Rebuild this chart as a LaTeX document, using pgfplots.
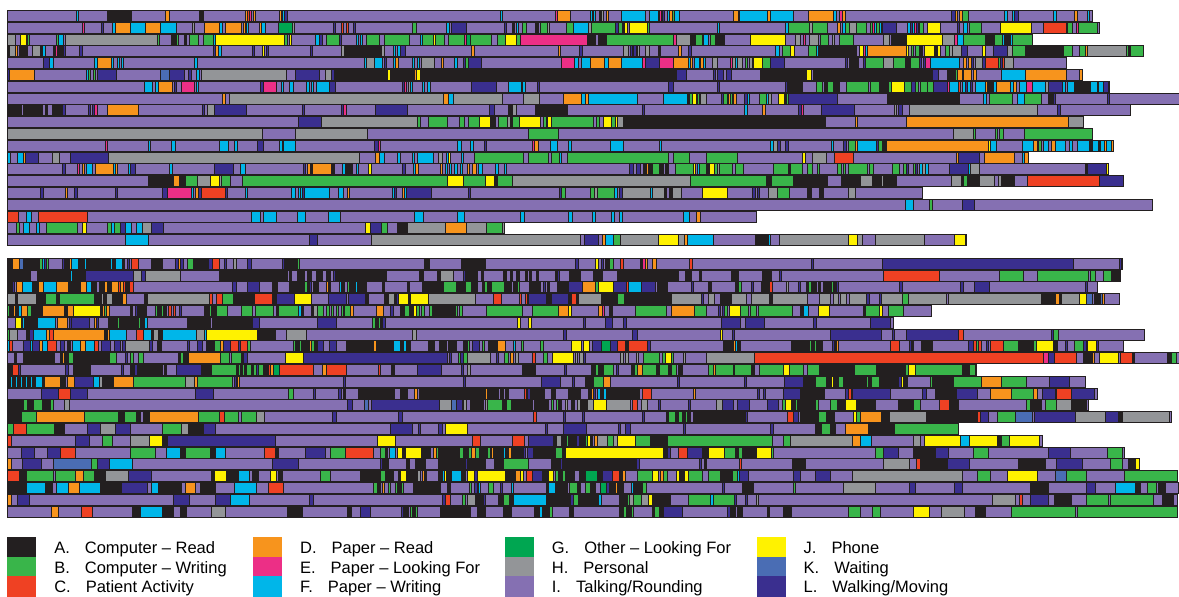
\documentclass[border=0pt]{standalone}
\usepackage{pgfplots}
\pgfplotsset{compat=1.18}
\usepackage{pgfplotstable}
\usepackage{fontspec}
\setmainfont{Liberation Sans}
\definecolor{cA}{HTML}{231F20}
\definecolor{cB}{HTML}{39B54A}
\definecolor{cC}{HTML}{EF4123}
\definecolor{cD}{HTML}{F7941D}
\definecolor{cE}{HTML}{EC2F86}
\definecolor{cF}{HTML}{00B6E9}
\definecolor{cG}{HTML}{00A651}
\definecolor{cH}{HTML}{939598}
\definecolor{cI}{HTML}{8570B2}
\definecolor{cJ}{HTML}{FFF200}
\definecolor{cK}{HTML}{4A6DB4}
\definecolor{cL}{HTML}{3A2F8F}

\pgfplotstableread{
s e r c
7 1092 1 9
7 1099 2 9
7 1032 3 9
7 1143 4 9
7 1066 5 9
7 1082 6 9
7 1109 7 9
7 1179 8 9
7 1130 9 9
7 1083 10 9
7 1092 11 9
7 1113 12 9
7 1028 13 9
7 1108 14 9
7 1123 15 9
7 922 16 9
7 1152 17 9
7 756 18 9
7 504 19 9
7 966 20 9
7 1122 22 9
7 1120 23 9
7 1097 24 9
7 1119 25 9
7 931 26 9
7 893 27 9
7 1144 28 9
7 1123 29 9
7 1179 30 9
7 976 31 9
7 1085 32 9
7 1097 33 9
7 1088 34 9
7 1171 35 9
7 958 36 9
7 1042 37 9
7 1124 38 9
7 1139 39 9
7 1177 40 9
7 1178 41 9
7 1177 42 9
7 1177 43 9
}\rowdata

\pgfplotstableread{
s e r c
76 78 1 6
107 131 1 1
165 169 1 4
199 203 1 1
245 247 1 4
247 249 1 3
249 251 1 5
253 255 1 4
279 281 1 4
282 284 1 6
284 287 1 12
500 502 1 6
555 557 1 5
557 570 1 4
590 592 1 6
593 595 1 6
599 601 1 1
601 603 1 8
606 608 1 4
621 645 1 6
649 658 1 6
659 661 1 5
662 664 1 12
667 669 1 6
669 672 1 4
672 674 1 2
674 679 1 6
733 738 1 4
739 767 1 6
767 770 1 4
770 793 1 6
808 833 1 4
833 836 1 6
839 842 1 5
842 845 1 4
951 955 1 12
955 957 1 4
959 962 1 4
962 968 1 2
1004 1007 1 6
1012 1014 1 6
1014 1018 1 12
1053 1056 1 6
1074 1077 1 4
1087 1089 1 6
82 84 2 5
101 103 2 12
112 115 2 6
115 130 2 4
130 145 2 6
145 160 2 4
160 176 2 6
192 194 2 8
204 219 2 4
219 222 2 6
225 241 2 4
243 245 2 4
246 248 2 6
259 261 2 4
261 265 2 6
278 292 2 7
292 294 2 8
333 335 2 12
341 343 2 3
346 348 2 3
353 355 2 12
412 416 2 2
446 449 2 6
451 466 2 12
504 506 2 12
512 514 2 1
516 518 2 6
522 526 2 2
535 538 2 1
540 547 2 2
547 549 2 8
566 573 2 2
573 588 2 6
588 591 2 8
591 615 2 2
615 618 2 12
618 622 2 2
622 624 2 1
624 627 2 10
629 647 2 10
647 649 2 2
717 719 2 6
785 788 2 6
788 809 2 2
809 812 2 8
812 827 2 2
837 840 2 4
842 845 2 6
845 849 2 2
849 856 2 8
856 866 2 2
870 872 2 2
872 874 2 5
874 876 2 6
876 879 2 2
879 881 2 6
882 896 2 12
907 910 2 6
910 912 2 12
912 914 2 6
914 916 2 5
916 918 2 12
919 923 2 2
927 940 2 10
957 959 2 12
963 967 2 6
969 981 2 2
1000 1031 2 10
1043 1066 2 3
1067 1072 2 2
1076 1078 2 5
1078 1097 2 2
7 15 3 8
20 26 3 10
27 29 3 2
56 58 3 2
58 63 3 6
65 157 3 8
157 159 3 2
171 176 3 1
176 178 3 2
184 186 3 1
189 198 3 2
203 213 3 2
213 215 3 6
215 284 3 10
284 287 3 2
289 291 3 10
315 319 3 6
319 322 3 12
326 339 3 2
339 341 3 12
356 358 3 6
360 362 3 6
366 379 3 2
384 409 3 2
420 422 3 6
422 433 3 2
433 435 3 10
435 444 3 2
448 464 3 2
464 466 3 5
466 470 3 7
470 491 3 2
497 505 3 2
505 516 3 10
516 520 3 2
520 587 3 5
587 595 3 1
598 606 3 1
606 673 3 2
673 676 3 5
676 690 3 8
690 695 3 1
695 702 3 2
703 708 3 6
710 715 3 2
715 724 3 1
750 785 3 10
795 800 3 8
803 805 3 5
809 818 3 8
820 828 3 2
832 834 3 8
839 853 3 2
883 889 3 8
891 906 3 1
906 942 3 10
942 954 3 8
954 957 3 5
957 963 3 6
963 985 3 2
985 994 3 1
994 1002 3 2
1002 1004 3 6
1004 1010 3 1
1010 1012 3 6
1012 1032 3 2
7 9 4 1
9 15 4 8
15 17 4 4
19 27 4 1
32 40 4 8
40 42 4 1
42 45 4 6
53 55 4 1
55 57 4 5
57 63 4 1
63 65 4 12
79 82 4 12
213 215 4 12
215 218 4 4
218 221 4 6
252 254 4 12
262 264 4 10
266 268 4 12
310 312 4 12
341 344 4 8
344 381 4 1
381 384 4 8
393 395 4 6
397 400 4 6
400 405 4 12
471 474 4 4
558 560 4 4
579 582 4 12
623 628 4 8
630 632 4 12
633 636 4 12
637 639 4 8
645 649 4 8
658 660 4 1
678 681 4 4
688 691 4 12
775 779 4 6
782 790 4 2
790 794 4 10
808 816 4 2
816 818 4 6
818 856 4 1
859 863 4 10
863 865 4 5
865 867 4 6
867 906 4 4
906 908 4 10
908 911 4 8
911 913 4 2
915 919 4 2
920 922 4 1
924 934 4 10
934 937 4 1
937 940 4 10
945 949 4 2
949 952 4 8
952 961 4 8
961 967 4 12
982 985 4 10
993 1007 4 12
1007 1012 4 8
1012 1025 4 2
1025 1063 4 1
1063 1072 4 2
1079 1085 4 2
1085 1087 4 4
1087 1126 4 8
1126 1128 4 2
1128 1130 4 1
1130 1143 4 2
43 49 5 12
49 53 5 6
94 97 5 6
97 111 5 4
111 113 5 6
117 119 5 6
121 123 5 6
194 197 5 6
364 366 5 6
366 374 5 8
374 382 5 6
384 386 5 12
393 395 5 6
395 398 5 4
412 414 5 6
417 419 5 6
421 434 5 8
441 443 5 4
454 457 5 6
463 465 5 12
465 468 5 2
468 481 5 12
561 574 5 5
574 578 5 6
581 590 5 6
590 604 5 4
604 608 5 6
608 621 5 4
621 642 5 6
642 645 5 5
645 659 5 12
659 673 5 5
673 688 5 4
688 690 5 6
690 692 5 4
694 699 5 6
700 703 5 4
703 705 5 6
712 717 5 8
730 732 5 5
732 735 5 8
735 737 5 6
737 742 5 8
745 747 5 2
749 752 5 8
753 762 5 10
762 770 5 2
770 784 5 12
845 847 5 12
849 858 5 1
863 865 5 12
865 883 5 2
883 893 5 8
893 905 5 2
905 910 5 1
910 919 5 2
919 921 5 12
923 925 5 12
925 930 5 5
930 959 5 6
963 966 5 4
968 971 5 4
971 973 5 12
975 982 5 8
982 985 5 12
985 998 5 3
998 1000 5 2
1000 1002 5 12
1002 1004 5 3
1004 1013 5 8
7 9 6 12
9 34 6 4
86 88 6 6
88 90 6 2
93 95 6 2
97 116 6 12
160 169 6 11
169 184 6 12
188 191 6 12
196 199 6 6
201 286 6 8
295 319 6 12
325 331 6 8
331 334 6 12
334 387 6 1
387 390 6 10
390 414 6 1
414 416 6 4
416 420 6 10
420 676 6 1
676 686 6 12
713 715 6 12
717 723 6 12
726 731 6 12
760 806 6 1
806 811 6 10
813 932 6 1
932 938 6 12
947 955 6 1
955 957 6 2
957 962 6 4
963 971 6 4
973 976 6 4
1001 1025 6 6
1025 1066 6 4
1079 1082 6 4
144 152 7 6
155 158 7 6
158 172 7 4
174 176 7 12
181 194 7 5
196 198 7 6
260 263 7 12
263 276 7 5
281 283 7 6
289 293 7 6
306 309 7 6
311 313 7 6
316 329 7 6
329 335 7 12
402 404 7 12
404 406 7 5
408 410 7 8
410 412 7 6
422 424 7 6
427 430 7 6
471 496 7 12
508 521 7 6
522 525 7 6
537 539 7 12
668 673 7 12
717 719 7 12
785 787 7 12
787 802 7 1
816 822 7 2
824 827 7 1
827 833 7 2
833 839 7 1
846 868 7 2
870 879 7 2
879 888 7 1
888 891 7 2
891 904 7 10
904 911 7 2
911 915 7 12
915 918 7 2
920 927 7 2
927 933 7 2
933 947 7 12
947 949 7 5
949 958 7 6
958 960 7 3
962 965 7 6
965 967 7 12
967 970 7 6
970 972 7 12
975 985 7 6
985 987 7 4
987 993 7 1
993 996 7 6
996 1010 7 4
1010 1013 7 6
1013 1016 7 4
1019 1026 7 6
1026 1032 7 5
1032 1045 7 6
1045 1048 7 8
1048 1062 7 12
1062 1065 7 6
1067 1074 7 6
1074 1090 7 1
1090 1097 7 6
1098 1103 7 6
1103 1108 7 12
222 225 8 4
229 443 8 8
443 448 8 4
448 453 8 6
453 502 8 8
523 539 8 8
563 581 8 4
581 585 8 6
585 588 8 4
588 637 8 6
663 687 8 6
687 689 8 1
689 692 8 2
692 696 8 10
697 699 8 2
700 706 8 8
721 723 8 12
723 727 8 2
728 730 8 4
730 732 8 2
733 736 8 4
744 747 8 12
747 749 8 6
759 766 8 2
766 768 8 6
768 771 8 8
778 784 8 10
784 786 8 1
786 788 8 2
788 837 8 12
887 959 8 1
983 986 8 6
989 1012 8 2
1017 1024 8 6
1024 1041 8 2
1048 1053 8 1
1053 1055 8 12
1107 1109 8 12
7 21 9 1
23 42 9 1
45 47 9 1
52 62 9 1
62 65 9 12
88 90 9 12
92 94 9 12
94 97 9 5
107 138 9 4
202 204 9 12
207 214 9 8
214 246 9 12
302 304 9 12
341 343 9 12
343 346 9 5
375 407 9 12
489 494 9 12
508 512 9 1
512 516 9 8
535 567 9 1
642 644 9 12
744 747 9 6
762 765 9 4
798 801 9 12
801 803 9 5
821 854 9 12
894 896 9 8
898 902 9 12
909 1037 9 8
1057 1060 9 12
298 321 10 12
321 417 10 8
417 420 10 2
428 447 10 2
459 464 10 2
468 479 10 2
479 490 10 10
490 495 10 1
498 507 10 2
507 510 10 8
510 512 10 1
512 519 10 2
519 540 10 10
543 546 10 2
547 551 10 10
551 593 10 2
596 599 10 2
603 611 10 10
611 615 10 2
615 617 10 10
617 623 10 8
623 825 10 1
855 857 10 4
906 1068 10 4
1068 1083 10 8
7 262 11 8
295 367 11 8
528 558 11 2
953 973 11 8
973 975 11 2
995 997 11 2
999 1003 11 2
1024 1092 11 2
105 107 12 5
148 150 12 6
171 175 12 6
219 228 12 6
234 237 12 6
257 263 12 12
279 282 12 6
283 295 12 6
374 378 12 12
378 380 12 5
457 461 12 6
470 473 12 6
484 486 12 12
532 534 12 5
534 538 12 4
550 557 12 6
568 571 12 6
610 623 12 6
659 661 12 6
770 773 12 6
773 777 12 8
777 780 12 12
785 788 12 12
831 833 12 6
843 846 12 12
848 855 12 2
855 857 12 4
857 876 12 6
876 878 12 12
878 882 12 2
883 886 12 1
886 988 12 4
988 990 12 10
990 996 12 6
1022 1033 12 6
1033 1037 12 4
1038 1041 12 2
1043 1048 12 6
1051 1055 12 4
1055 1065 12 6
1069 1072 12 6
1077 1089 12 6
1089 1092 12 1
1092 1098 12 6
1098 1100 12 1
1100 1104 12 6
1104 1106 12 4
1106 1111 12 6
1111 1113 12 4
7 10 13 6
17 23 13 6
23 25 13 4
25 38 13 12
52 59 13 8
70 108 13 12
108 359 13 8
375 379 13 4
379 384 13 6
397 400 13 6
412 414 13 6
417 433 13 6
438 442 13 8
446 448 13 6
448 450 13 10
461 463 13 6
474 523 13 2
528 548 13 2
551 559 13 2
559 561 13 6
567 668 13 2
673 689 13 2
706 737 13 2
802 805 13 10
812 826 13 8
834 853 13 3
956 958 13 4
958 979 13 12
984 1014 13 4
1022 1024 13 6
1024 1028 13 4
62 65 14 12
77 79 14 5
82 84 14 4
86 92 14 6
95 113 14 4
113 115 14 6
115 117 14 4
128 130 14 6
130 135 14 12
169 172 14 6
214 233 14 12
240 245 14 6
303 305 14 12
307 310 14 4
310 312 14 1
312 331 14 4
331 334 14 1
342 345 14 6
345 352 14 1
356 358 14 6
368 371 14 10
402 405 14 12
413 415 14 6
415 418 14 4
440 442 14 4
445 447 14 6
449 451 14 6
454 457 14 6
460 462 14 6
467 469 14 4
472 476 14 4
478 482 14 6
495 498 14 6
504 506 14 6
629 633 14 12
636 640 14 12
643 645 14 1
646 648 14 4
648 651 14 1
652 659 14 2
659 663 14 1
665 668 14 1
675 693 14 2
693 695 14 10
697 699 14 6
699 706 14 2
707 709 14 1
709 714 14 10
714 717 14 2
717 719 14 8
719 732 14 2
735 743 14 2
773 788 14 2
788 790 14 1
790 802 14 2
807 812 14 2
817 819 14 2
837 841 14 2
843 845 14 2
848 867 14 2
869 873 14 2
892 899 14 2
903 906 14 2
906 908 14 12
913 915 14 2
915 917 14 12
919 922 14 6
922 925 14 8
925 928 14 6
949 968 14 12
968 970 14 6
970 979 14 8
1085 1087 14 1
1087 1106 14 12
1106 1108 14 10
148 173 15 1
173 179 15 4
179 185 15 1
185 197 15 2
197 210 15 8
210 219 15 10
219 221 15 8
221 230 15 2
242 447 15 2
447 463 15 10
463 485 15 2
485 494 15 10
494 497 15 1
497 512 15 2
512 690 15 8
690 766 15 2
766 771 15 1
771 793 15 2
793 827 15 1
841 860 15 1
860 872 15 8
872 881 15 1
881 883 15 8
883 896 15 1
951 961 15 8
961 963 15 1
963 967 15 2
967 979 15 1
979 994 15 8
998 1001 15 8
1001 1014 15 1
1027 1099 15 3
1099 1123 15 12
40 43 16 12
65 67 16 4
74 77 16 12
115 117 16 12
162 167 16 12
167 191 16 5
191 193 16 6
195 198 16 4
198 201 16 12
201 225 16 3
225 227 16 12
245 247 16 6
291 295 16 6
298 300 16 6
300 302 16 6
302 304 16 12
304 329 16 6
338 343 16 6
347 349 16 4
392 394 16 6
394 396 16 12
402 404 16 4
404 406 16 6
406 431 16 12
468 470 16 12
559 561 16 12
561 565 16 2
590 594 16 2
594 597 16 8
597 614 16 2
614 617 16 6
619 622 16 12
622 650 16 8
650 652 16 6
652 664 16 8
664 666 16 1
669 672 16 1
672 681 16 8
702 727 16 10
752 755 16 12
757 759 16 12
768 777 16 8
777 789 16 2
807 811 16 1
819 823 16 1
848 855 16 8
905 913 17 6
929 932 17 2
962 974 17 12
7 18 18 3
26 31 18 6
38 87 18 3
251 260 18 6
263 276 18 6
297 305 18 6
328 340 18 6
414 423 18 6
457 464 18 6
520 524 18 6
568 572 18 6
592 595 18 6
611 614 18 6
619 622 18 6
683 689 18 6
696 700 18 4
16 19 19 2
23 29 19 6
36 39 19 6
46 77 19 2
82 86 19 10
107 111 19 2
111 114 19 6
114 120 19 2
120 125 19 12
125 131 19 6
136 142 19 6
142 151 19 8
151 163 19 12
365 370 19 10
370 381 19 12
381 387 19 2
397 407 19 1
407 445 19 8
445 466 19 4
466 486 19 8
486 502 19 2
502 504 19 8
125 148 20 6
309 317 20 12
371 580 20 8
584 598 20 12
602 605 20 4
605 613 20 6
613 620 20 2
620 658 20 8
658 678 20 10
678 684 20 8
684 687 20 4
687 713 20 6
755 768 20 1
768 770 20 6
779 848 20 8
848 857 20 10
857 862 20 8
875 924 20 8
954 965 20 10
7 12 22 1
12 19 22 4
19 23 22 11
23 39 22 1
39 42 22 2
42 44 22 6
44 46 22 12
46 48 22 2
62 64 22 12
64 69 22 1
69 71 22 4
71 78 22 6
78 84 22 1
84 86 22 6
86 110 22 1
110 112 22 6
112 115 22 1
115 122 22 6
122 124 22 1
127 129 22 12
131 138 22 3
151 162 22 1
175 178 22 12
178 180 22 4
180 183 22 12
187 193 22 2
193 208 22 1
208 212 22 12
212 219 22 3
224 226 22 12
233 236 22 8
247 251 22 12
282 284 22 12
284 297 22 1
297 299 22 2
424 429 22 1
461 485 22 1
575 578 22 12
595 598 22 10
601 603 22 12
605 609 22 1
609 613 22 2
620 623 22 3
640 642 22 1
642 645 22 5
645 647 22 4
652 656 22 4
689 692 22 3
811 813 22 12
882 1073 22 12
1119 1121 22 12
7 30 23 1
37 70 23 1
70 72 23 6
72 85 23 1
85 133 23 12
133 141 23 8
141 145 23 12
145 180 23 8
219 287 23 1
289 291 23 1
297 304 23 1
307 311 23 1
316 319 23 1
320 322 23 1
326 330 23 1
333 335 23 12
335 386 23 1
419 423 23 1
437 440 23 1
440 453 23 8
463 465 23 12
465 469 23 1
469 477 23 1
481 483 23 1
503 506 23 1
510 512 23 1
516 519 23 1
525 527 23 1
529 531 23 1
536 538 23 1
555 557 23 1
557 559 23 12
569 580 23 1
593 602 23 1
617 678 23 1
685 691 23 1
699 701 23 1
731 738 23 1
762 771 23 1
779 781 23 12
883 939 23 3
999 1023 23 2
1037 1088 23 2
1090 1095 23 2
1103 1111 23 2
1111 1119 23 1
7 12 24 1
12 14 24 12
16 22 24 4
22 32 24 6
33 38 24 1
38 43 24 4
43 56 24 6
56 68 24 4
68 80 24 1
80 86 24 4
86 91 24 6
91 96 24 1
99 104 24 1
104 107 24 4
107 111 24 1
111 118 24 4
118 120 24 3
120 123 24 4
123 125 24 3
125 129 24 1
129 133 24 3
232 236 24 12
247 259 24 12
272 277 24 1
289 304 24 1
304 307 24 2
307 309 24 1
309 311 24 12
313 318 24 1
326 328 24 4
328 330 24 1
339 341 24 6
341 344 24 1
347 349 24 2
349 355 24 1
355 357 24 6
357 366 24 1
382 384 24 1
407 409 24 1
422 443 24 1
443 456 24 2
456 465 24 1
465 471 24 2
471 477 24 1
482 484 24 1
484 487 24 2
487 491 24 1
491 504 24 2
504 511 24 1
513 517 24 1
517 519 24 2
529 540 24 1
543 545 24 12
547 549 24 1
557 568 24 1
568 582 24 12
582 595 24 4
595 598 24 2
598 613 24 10
613 626 24 12
626 628 24 3
628 641 24 6
641 655 24 12
657 667 24 1
691 693 24 12
708 711 24 1
735 738 24 1
738 741 24 2
751 753 24 12
761 769 24 1
769 772 24 3
786 788 24 8
798 800 24 12
806 808 24 1
808 811 24 2
811 816 24 1
818 820 24 1
823 831 24 1
831 833 24 2
833 836 24 1
836 838 24 12
899 902 24 12
960 963 24 12
974 989 24 12
1085 1087 24 12
7 15 25 8
15 17 25 1
17 36 25 8
36 45 25 1
45 56 25 2
56 59 25 1
59 94 25 2
94 101 25 1
101 103 25 8
103 106 25 1
106 112 25 8
112 122 25 1
122 126 25 4
144 147 25 1
147 209 25 8
209 212 25 3
216 222 25 3
222 233 25 2
233 254 25 1
254 272 25 3
272 276 25 1
276 294 25 12
294 311 25 10
328 346 25 12
348 365 25 12
365 368 25 1
384 388 25 1
388 394 25 8
394 396 25 1
396 398 25 12
398 408 25 10
408 410 25 1
410 428 25 10
428 475 25 8
493 501 25 3
519 521 25 3
525 527 25 3
528 546 25 12
546 551 25 1
551 568 25 12
568 571 25 1
571 576 25 3
576 578 25 1
578 601 25 8
601 617 25 1
617 624 25 2
624 671 25 1
671 701 25 8
701 703 25 12
708 714 25 8
720 731 25 1
731 746 25 8
751 769 25 8
769 772 25 1
772 807 25 8
819 830 25 8
833 838 25 8
840 846 25 8
849 866 25 8
866 869 25 12
879 881 25 12
881 902 25 8
902 908 25 2
908 946 25 8
948 1041 25 8
1041 1055 25 1
1055 1059 25 4
1059 1061 25 1
1061 1079 25 8
1079 1086 25 10
1086 1092 25 11
1094 1100 25 1
1100 1102 25 11
1102 1104 25 4
7 9 26 2
10 13 26 1
13 15 26 4
15 18 26 1
18 21 26 6
21 27 26 4
27 31 26 2
31 42 26 1
42 64 26 4
64 67 26 1
67 73 26 4
73 100 26 10
100 102 26 1
102 104 26 4
104 106 26 2
106 109 26 4
130 132 26 1
135 137 26 12
137 146 26 1
155 157 26 2
157 161 26 1
161 163 26 2
163 166 26 1
168 171 26 3
173 175 26 3
179 181 26 12
204 209 26 1
209 211 26 2
211 216 26 1
216 227 26 2
241 252 26 2
255 273 26 2
276 278 26 1
278 298 26 2
298 301 26 6
301 303 26 1
311 313 26 1
313 317 26 8
317 323 26 2
326 329 26 2
331 333 26 2
336 338 26 2
341 343 26 2
344 350 26 2
350 353 26 4
376 383 26 4
390 393 26 12
400 404 26 1
404 409 26 2
409 413 26 1
413 416 26 10
416 419 26 2
421 424 26 2
429 432 26 2
432 455 26 1
455 457 26 2
459 462 26 2
486 522 26 2
532 558 26 2
558 568 26 4
568 571 26 10
598 602 26 4
602 604 26 5
609 612 26 1
635 666 26 2
671 694 26 4
694 706 26 2
718 720 26 12
722 724 26 12
724 727 26 2
729 740 26 10
740 748 26 2
750 756 26 2
758 792 26 2
800 803 26 1
803 808 26 6
818 829 26 10
863 865 26 1
865 879 26 2
879 882 26 10
888 903 26 2
15 21 27 10
22 24 27 6
24 28 27 1
28 37 27 1
37 55 27 6
57 67 27 4
69 71 27 12
71 89 27 12
94 96 27 4
96 98 27 12
108 117 27 1
117 119 27 2
119 138 27 1
138 140 27 2
140 144 27 1
144 147 27 6
187 210 27 1
212 251 27 1
252 259 27 12
317 336 27 12
372 375 27 2
375 378 27 1
378 380 27 2
380 382 27 1
382 385 27 12
517 520 27 10
528 531 27 10
583 585 27 12
605 612 27 12
623 626 27 12
721 740 27 12
745 764 27 12
813 816 27 12
870 890 27 12
7 9 28 2
9 17 28 8
26 29 28 1
29 33 28 12
33 46 28 6
46 49 28 4
49 53 28 3
53 104 28 4
104 107 28 1
107 109 28 4
109 126 28 6
136 143 28 3
143 151 28 6
151 153 28 1
153 158 28 8
158 162 28 1
162 196 28 6
196 204 28 8
204 206 28 6
206 257 28 10
257 275 28 1
286 306 28 8
412 416 28 8
563 566 28 12
632 637 28 12
720 722 28 10
732 734 28 12
830 881 28 12
892 894 28 12
906 958 28 12
958 963 28 3
1051 1053 28 12
1053 1058 28 2
7 9 29 6
9 12 29 3
23 30 29 12
30 32 29 6
32 39 29 12
39 42 29 4
42 47 29 6
47 56 29 3
60 64 29 12
67 70 29 1
72 80 29 6
80 85 29 4
85 94 29 6
94 98 29 3
101 110 29 12
114 120 29 12
122 125 29 12
125 149 29 8
149 152 29 12
157 161 29 1
187 189 29 12
197 202 29 12
206 214 29 1
214 220 29 2
220 223 29 4
223 230 29 12
230 238 29 3
238 240 29 12
240 247 29 3
247 250 29 2
293 295 29 2
295 299 29 1
299 301 29 2
301 309 29 1
309 311 29 4
311 314 29 2
314 317 29 1
317 323 29 12
329 336 29 12
346 373 29 1
373 376 29 4
376 393 29 1
393 400 29 6
400 403 29 1
403 406 29 6
406 410 29 1
428 434 29 1
439 446 29 1
448 456 29 1
463 467 29 1
467 469 29 2
472 479 29 12
482 484 29 2
488 497 29 1
497 505 29 4
513 515 29 6
521 523 29 2
540 543 29 2
571 581 29 10
583 589 29 10
592 601 29 12
601 610 29 7
610 617 29 12
617 625 29 3
625 628 29 1
628 647 29 3
647 650 29 12
723 733 29 1
733 735 29 4
735 737 29 6
737 740 29 1
791 809 29 1
809 811 29 2
811 814 29 1
814 816 29 2
816 822 29 1
832 834 29 12
834 836 29 1
836 838 29 4
890 899 29 3
909 911 29 12
911 913 29 1
921 932 29 1
968 973 29 12
973 976 29 3
976 978 29 2
978 981 29 3
986 988 29 12
990 1003 29 3
1003 1018 29 2
1018 1033 29 1
1033 1036 29 2
1036 1053 29 10
1054 1057 29 1
1065 1067 29 12
1074 1083 29 2
1083 1086 29 12
1087 1096 29 10
1096 1098 29 12
14 16 30 1
23 54 30 1
60 62 30 1
62 64 30 4
64 68 30 1
68 73 30 2
73 109 30 1
109 116 30 2
125 127 30 12
130 133 30 2
138 143 30 2
178 180 30 1
180 183 30 2
183 187 30 1
188 220 30 4
220 229 30 2
231 241 30 2
241 243 30 1
243 247 30 12
285 303 30 10
303 447 30 12
449 451 30 12
458 460 30 2
460 463 30 12
463 467 30 2
467 490 30 8
496 498 30 12
504 508 30 2
510 513 30 4
515 518 30 8
532 535 30 3
543 547 30 2
552 573 30 10
575 577 30 8
579 583 30 8
583 585 30 12
620 623 30 8
625 628 30 8
636 638 30 8
643 659 30 2
662 665 30 2
665 671 30 10
671 673 30 2
683 685 30 8
706 754 30 8
754 1043 30 3
1043 1048 30 5
1048 1054 30 12
1054 1076 30 3
1083 1092 30 1
1092 1094 30 4
1099 1118 30 10
1120 1132 30 3
1132 1134 30 1
1167 1171 30 1
1171 1176 30 2
7 12 31 1
12 18 31 3
18 20 31 12
65 68 31 12
73 90 31 1
121 123 31 12
130 134 31 1
134 137 31 12
137 162 31 1
164 166 31 1
176 201 31 12
201 211 31 1
211 236 31 2
236 238 31 1
238 240 31 2
240 242 31 1
242 244 31 2
244 246 31 1
246 251 31 2
251 253 31 1
253 256 31 2
256 258 31 12
258 263 31 2
263 268 31 1
268 270 31 3
270 273 31 4
273 279 31 7
279 313 31 3
322 326 31 4
326 346 31 3
378 380 31 3
391 394 31 1
417 441 31 12
461 463 31 12
467 470 31 8
522 535 31 1
564 566 31 12
591 595 31 1
595 598 31 2
598 603 31 1
603 613 31 2
616 618 31 12
631 634 31 1
634 637 31 2
637 642 31 4
642 656 31 2
656 659 31 1
659 668 31 2
668 671 31 1
671 676 31 2
678 682 31 1
708 713 31 2
713 715 31 4
715 733 31 2
734 751 31 2
751 754 31 1
759 783 31 2
783 789 31 10
789 803 31 2
807 819 31 2
819 854 31 1
854 876 31 2
876 905 31 1
905 908 31 2
908 915 31 10
915 962 31 2
962 969 31 1
969 975 31 2
7 10 32 1
10 12 32 6
12 15 32 1
15 17 32 6
17 20 32 1
20 22 32 6
22 25 32 1
25 27 32 6
27 30 32 1
30 32 32 6
32 35 32 1
35 42 32 6
42 44 32 1
44 60 32 4
60 65 32 1
67 74 32 4
74 93 32 12
93 99 32 6
99 102 32 8
102 113 32 1
113 133 32 4
133 185 32 2
185 194 32 8
194 197 32 4
197 232 32 2
234 236 32 12
237 239 32 4
343 345 32 12
463 465 32 12
541 560 32 12
572 574 32 12
585 593 32 1
593 603 32 2
603 610 32 4
677 679 32 12
744 746 32 12
784 803 32 12
803 815 32 1
815 826 32 2
826 831 32 1
831 833 32 10
833 838 32 1
838 843 32 2
843 866 32 1
866 868 32 2
868 871 32 1
871 879 32 2
879 898 32 1
898 901 32 12
901 903 32 10
903 907 32 1
930 932 32 2
932 953 32 1
953 981 32 2
981 1001 32 4
1001 1026 32 2
1049 1069 32 12
41 58 33 12
58 70 33 3
70 87 33 12
195 213 33 12
288 293 33 2
313 315 33 12
338 341 33 12
343 345 33 1
358 394 33 1
400 407 33 1
414 417 33 4
419 485 33 1
485 487 33 4
487 498 33 1
500 503 33 1
505 508 33 1
524 526 33 3
527 530 33 12
530 544 33 1
551 555 33 1
568 580 33 1
588 591 33 1
591 593 33 4
593 595 33 12
597 600 33 6
600 603 33 1
603 606 33 6
606 639 33 1
642 651 33 3
693 695 33 4
757 759 33 12
763 765 33 12
783 800 33 12
800 824 33 1
845 848 33 12
848 851 33 3
852 890 33 12
922 926 33 12
935 956 33 1
956 977 33 12
990 1011 33 4
1011 1033 33 2
1033 1037 33 4
1042 1055 33 12
1056 1071 33 3
1071 1094 33 12
7 23 34 1
23 27 34 2
27 33 34 1
33 42 34 2
42 50 34 1
50 53 34 2
64 69 34 8
347 352 34 12
364 368 34 11
371 439 34 12
439 451 34 8
451 456 34 11
456 462 34 12
463 466 34 8
470 483 34 1
485 487 34 8
487 502 34 2
502 506 34 1
506 511 34 2
511 532 34 1
534 548 34 1
551 553 34 2
556 558 34 2
558 561 34 1
565 567 34 8
571 574 34 1
577 580 34 8
580 587 34 1
587 593 34 8
593 606 34 10
606 630 34 8
632 637 34 3
641 647 34 8
658 660 34 12
688 690 34 12
716 722 34 8
722 733 34 12
737 749 34 12
767 778 34 12
782 785 34 2
785 791 34 10
791 795 34 1
795 797 34 2
797 815 34 1
815 818 34 2
830 837 34 2
837 845 34 1
845 856 34 10
856 875 34 1
898 913 34 1
913 920 34 2
939 949 34 3
949 958 34 1
1026 1030 34 2
1030 1041 34 1
1045 1056 34 2
1056 1071 34 8
1071 1086 34 1
7 21 35 1
21 36 35 2
36 84 35 4
84 118 35 2
118 124 35 1
124 136 35 2
136 140 35 1
143 149 35 1
149 198 35 4
198 219 35 2
219 224 35 3
224 238 35 2
241 256 35 2
256 264 35 8
332 336 35 12
398 402 35 12
533 536 35 3
563 565 35 12
582 584 35 12
642 644 35 12
666 668 35 1
668 675 35 2
675 678 35 1
678 682 35 2
682 685 35 1
685 687 35 2
687 690 35 1
693 745 35 1
745 747 35 12
787 793 35 3
793 798 35 12
800 818 35 1
818 826 35 2
826 834 35 1
853 856 35 10
856 860 35 2
860 881 35 4
881 889 35 1
889 926 35 8
926 977 35 1
977 980 35 3
980 988 35 12
997 1015 35 2
1015 1032 35 11
1034 1075 35 12
1075 1105 35 8
1105 1118 35 12
1118 1122 35 1
1122 1169 35 8
7 13 36 2
13 26 36 3
26 54 36 2
54 64 36 1
87 100 36 12
100 115 36 8
115 130 36 12
162 181 36 2
181 188 36 8
188 203 36 1
203 215 36 12
390 412 36 12
418 420 36 12
438 442 36 12
445 467 36 10
545 547 36 12
563 586 36 12
618 620 36 12
625 630 36 12
683 685 36 12
770 773 36 12
815 821 36 1
821 830 36 2
830 835 36 1
845 868 36 4
868 894 36 1
894 958 36 2
7 11 37 3
75 89 37 12
102 112 37 2
130 149 37 8
149 162 37 10
162 167 37 1
167 275 37 12
377 395 37 10
472 480 37 3
512 524 37 3
528 553 37 12
553 556 37 1
556 561 37 8
561 566 37 1
566 568 37 2
568 576 37 1
576 579 37 12
579 585 37 1
585 587 37 2
587 590 37 10
590 592 37 1
594 597 37 4
597 607 37 8
607 613 37 2
613 617 37 8
617 635 37 10
635 650 37 2
650 667 37 1
667 772 37 2
783 790 37 2
790 852 37 8
852 860 37 4
860 871 37 6
913 920 37 8
924 960 37 10
960 969 37 6
969 997 37 10
997 1001 37 1
1001 1009 37 2
1009 1039 37 10
21 34 38 12
47 60 38 12
60 75 38 3
130 155 38 2
166 180 38 6
180 185 38 1
185 210 38 2
210 215 38 1
215 225 38 6
264 275 38 3
275 278 38 1
305 325 38 12
330 345 38 2
345 373 38 3
380 385 38 2
385 387 38 1
389 395 38 6
397 402 38 10
402 405 38 1
405 421 38 10
421 430 38 1
433 436 38 4
436 438 38 2
438 442 38 1
443 459 38 1
459 463 38 2
463 468 38 1
468 471 38 2
471 475 38 4
475 479 38 2
479 487 38 1
487 490 38 2
491 493 38 4
493 503 38 1
503 505 38 6
505 508 38 1
508 511 38 4
511 523 38 1
523 525 38 12
527 533 38 12
533 555 38 1
555 562 38 2
562 565 38 1
565 663 38 10
663 667 38 1
667 670 38 12
678 687 38 3
687 702 38 12
702 708 38 1
708 724 38 10
724 735 38 2
735 738 38 1
738 742 38 2
742 756 38 1
756 771 38 10
771 773 38 2
875 883 38 2
883 898 38 12
913 935 38 1
935 948 38 12
973 988 38 2
1048 1070 38 12
1107 1122 38 2
7 11 39 4
22 41 39 12
53 91 39 11
91 97 39 2
97 109 39 12
109 132 39 6
272 298 39 12
380 382 39 12
383 388 39 1
406 409 39 1
415 425 39 1
438 465 39 1
465 467 39 12
467 485 39 1
494 503 39 1
503 528 39 2
551 560 39 1
560 562 39 12
562 636 39 1
636 639 39 12
699 701 39 12
704 706 39 1
739 741 39 3
792 805 39 1
883 909 39 8
916 920 39 3
920 947 39 1
947 969 39 12
1018 1045 39 1
1056 1082 39 12
1110 1122 39 2
1128 1135 39 1
1135 1139 39 10
7 19 40 3
19 26 40 1
26 53 40 2
55 75 40 2
75 83 40 4
83 94 40 2
94 105 40 1
105 128 40 8
128 151 40 12
211 214 40 1
214 226 40 10
226 238 40 1
238 249 40 6
252 258 40 1
270 276 40 10
278 282 40 1
320 330 40 2
360 380 40 1
380 385 40 2
385 393 40 1
398 400 40 1
400 406 40 10
406 417 40 1
417 420 40 8
422 424 40 4
424 426 40 1
438 441 40 1
442 444 40 6
444 446 40 10
446 451 40 1
451 461 40 6
461 465 40 1
467 474 40 10
474 477 40 12
477 505 40 10
505 515 40 1
515 520 40 4
520 523 40 10
526 532 40 3
532 542 40 12
542 548 40 1
548 553 40 10
555 558 40 2
558 562 40 1
562 565 40 2
565 574 40 1
579 585 40 1
585 597 40 7
597 602 40 1
602 612 40 12
612 619 40 3
619 622 40 1
622 625 40 4
637 652 40 2
652 658 40 10
660 663 40 4
663 667 40 2
676 679 40 10
679 684 40 1
684 688 40 10
688 702 40 2
708 720 40 2
720 732 40 1
732 737 40 2
737 739 40 6
739 748 40 12
793 800 40 12
815 830 40 12
852 962 40 8
977 990 40 2
1007 1037 40 10
1055 1066 40 11
1066 1086 40 2
1124 1177 40 2
7 26 41 1
26 45 41 6
45 52 41 1
56 68 41 6
68 79 41 4
79 100 41 6
100 121 41 1
121 147 41 12
151 158 41 6
158 181 41 1
185 195 41 4
200 215 41 1
234 256 41 6
268 283 41 3
373 377 41 2
377 380 41 1
382 384 41 4
388 390 41 2
395 397 41 2
397 400 41 1
401 403 41 2
413 440 41 1
447 450 41 1
469 471 41 2
474 477 41 12
478 480 41 6
488 493 41 2
500 502 41 12
511 513 41 6
546 548 41 1
548 555 41 6
555 567 41 1
569 577 41 2
577 580 41 1
585 590 41 2
590 595 41 1
600 606 41 7
606 609 41 12
609 615 41 1
615 617 41 4
617 623 41 1
631 633 41 6
633 642 41 1
642 646 41 2
722 724 41 12
742 753 41 1
793 795 41 2
843 875 41 8
909 915 41 12
954 962 41 12
1030 1048 41 1
1086 1095 41 12
1115 1135 41 6
1135 1140 41 1
1147 1156 41 2
1158 1165 41 1
7 11 42 4
17 29 42 12
173 189 42 12
215 230 42 12
230 249 42 6
309 313 42 12
442 445 42 12
445 450 42 3
462 465 42 2
467 475 42 8
475 483 42 1
483 485 42 12
498 503 42 1
503 509 42 2
509 513 42 1
513 546 42 6
546 570 42 1
570 573 42 12
573 578 42 2
578 598 42 1
598 601 42 6
619 627 42 1
627 629 42 2
629 633 42 8
633 641 42 2
641 648 42 8
648 652 42 10
652 670 42 1
688 710 42 2
710 713 42 6
713 734 42 2
734 736 42 12
745 747 42 12
756 758 42 8
992 1015 42 8
1019 1022 42 3
1030 1048 42 12
1054 1071 42 1
1086 1108 42 2
1110 1153 42 2
1162 1173 42 1
51 58 43 4
81 92 43 3
132 140 43 1
140 162 43 6
162 173 43 1
180 186 43 1
211 225 43 8
287 302 43 1
347 351 43 1
360 370 43 12
401 403 43 12
403 408 43 1
410 412 43 2
412 415 43 1
415 417 43 2
440 470 43 1
477 485 43 1
503 511 43 1
534 539 43 1
539 542 43 6
542 549 43 1
549 552 43 2
569 573 43 1
619 623 43 1
623 626 43 2
626 631 43 1
631 633 43 2
652 654 43 1
654 659 43 2
659 663 43 1
663 682 43 12
727 730 43 12
730 735 43 1
737 742 43 1
767 769 43 1
783 791 43 1
848 860 43 2
872 880 43 2
913 929 43 10
941 964 43 8
975 985 43 1
1011 1075 43 2
1077 1177 43 2
}\segdata

% one segment = rectangle from its start to its end (1 data unit = 0.5pt)
\pgfdeclareplotmark{seg}{%
  \pgfpathrectangle{\pgfpoint{0pt}{-2.75pt}}{\pgfpoint{\vw*0.5pt}{5.5pt}}%
  \pgfusepathqfillstroke}

\pgfplotsset{
  segstyle/.style={
    scatter, only marks, mark=seg, forget plot,
    scatter src=explicit symbolic,
    visualization depends on={\thisrow{e}-\thisrow{s} \as \vw},
    mark options={line width=0.4pt, solid},
    scatter/classes={
      1={fill=cA,draw=cA}, 2={fill=cB,draw=cA}, 3={fill=cC,draw=cA},
      4={fill=cD,draw=cA}, 5={fill=cE,draw=cA}, 6={fill=cF,draw=cA},
      7={fill=cG,draw=cA}, 8={fill=cH,draw=cA}, 9={fill=cI,draw=cA},
      10={fill=cJ,draw=cA}, 11={fill=cK,draw=cA}, 12={fill=cL,draw=cA}}
  }
}
\newcommand\lgimg[1]{\addlegendimage{legend image code/.code={%
  \fill[#1] (0pt,-3.95pt) rectangle (14pt,5.8pt);}}}

\begin{document}
\begin{tikzpicture}
\begin{axis}[
  scale only axis, width=589.5pt, height=298pt,
  xmin=0, xmax=1179, ymin=-0.3475, ymax=50.16, y dir=reverse,
  hide axis, clip=false,
  legend columns=4,
  legend cell align=left,
  legend style={at={(axis cs:7.5,45.186)}, anchor=north west, draw=none, fill=none,
    inner sep=0pt, outer sep=0pt, row sep=-0.45pt,
    nodes={inner sep=0pt, outer sep=0pt},
    font=\fontsize{8.25}{9.9}\selectfont,
    /tikz/every odd column/.append style={column sep=9pt}},
]
\addplot[segstyle] table[x=s, y=r, meta=c] {\rowdata};
\addplot[segstyle] table[x=s, y=r, meta=c] {\segdata};

\lgimg{cA}\addlegendentry{\makebox[99.5pt][l]{A.\hspace{7.5pt}Computer -- Read}}
\lgimg{cD}\addlegendentry{\makebox[102.5pt][l]{D.\hspace{7.5pt}Paper -- Read}}
\lgimg{cG}\addlegendentry{\makebox[102.5pt][l]{G.\hspace{7.5pt}Other -- Looking For}}
\lgimg{cJ}\addlegendentry{\makebox[80pt][l]{J.\hspace{7.5pt}Phone}}
\lgimg{cB}\addlegendentry{\makebox[99.5pt][l]{B.\hspace{7.5pt}Computer -- Writing}}
\lgimg{cE}\addlegendentry{\makebox[102.5pt][l]{E.\hspace{7.5pt}Paper -- Looking For}}
\lgimg{cH}\addlegendentry{\makebox[102.5pt][l]{H.\hspace{7.5pt}Personal}}
\lgimg{cK}\addlegendentry{\makebox[80pt][l]{K.\hspace{7.5pt}Waiting}}
\lgimg{cC}\addlegendentry{\makebox[99.5pt][l]{C.\hspace{7.5pt}Patient Activity}}
\lgimg{cF}\addlegendentry{\makebox[102.5pt][l]{F.\hspace{7.5pt}Paper -- Writing}}
\lgimg{cI}\addlegendentry{\makebox[102.5pt][l]{I.\hspace{7.5pt}Talking/Rounding}}
\lgimg{cL}\addlegendentry{\makebox[80pt][l]{L.\hspace{7.5pt}Walking/Moving}}
\end{axis}
\pgfresetboundingbox
\path (current axis.south west) rectangle (current axis.north east);
\end{tikzpicture}
\end{document}
